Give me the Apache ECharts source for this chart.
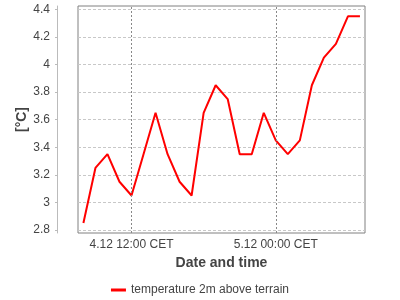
<!DOCTYPE html>
<html><head><meta charset="utf-8">
<script src="https://cdn.jsdelivr.net/npm/echarts@6/dist/echarts.min.js"></script>
<style>html,body{margin:0;padding:0;background:#fff}#c{width:400px;height:300px}</style>
</head><body><div id="c"></div>
<script>
// hourly data from 4.12 08:00 to 5.12 07:00 (x = hours since 4.12 00:00)
var startHour = 8;
var temps = [2.85, 3.25, 3.35, 3.15, 3.05, 3.35, 3.65, 3.35, 3.15, 3.05, 3.65, 3.85, 3.75, 3.35, 3.35, 3.65, 3.45, 3.35, 3.45, 3.85, 4.05, 4.15, 4.35, 4.35];
var seriesName = 'temperature 2m above terrain';
var yTicks = [2.8, 3, 3.2, 3.4, 3.6, 3.8, 4, 4.2, 4.4];
var xTickHours = [12, 24];
var xTickLabels = ['4.12 12:00 CET', '5.12 00:00 CET'];

var data = temps.map(function (v, i) { return [startHour + i, v]; });

var chart = echarts.init(document.getElementById('c'), null, {renderer: 'canvas'});
var font = 'Liberation Sans, Arial, sans-serif';
chart.setOption({
  animation: false,
  textStyle: {fontFamily: font},
  grid: {left: 78, right: 35, top: 6, bottom: 67, show: true, borderColor: '#808080', borderWidth: 1, containLabel: false},
  xAxis: {
    type: 'value',
    min: startHour - 0.45,
    max: startHour + temps.length - 1 + 0.42,
    name: 'Date and time', nameLocation: 'middle', nameGap: 22,
    nameTextStyle: {fontFamily: font, fontSize: 14, fontWeight: 'bold', color: '#444'},
    axisLine: {show: false},
    axisTick: {show: false, customValues: xTickHours},
    axisLabel: {color: '#444', fontSize: 12, fontFamily: font, margin: 6, customValues: xTickHours,
      formatter: function (v) { var k = xTickHours.indexOf(v); return k >= 0 ? xTickLabels[k] : ''; }},
    splitLine: {show: false}
  },
  yAxis: {
    type: 'value', min: 2.778, max: 4.425,
    offset: 21,
    name: '[°C]', nameLocation: 'middle', nameGap: 28, nameRotate: 90, nameMoveOverlap: false,
    nameTextStyle: {fontFamily: font, fontSize: 14, fontWeight: 'bold', color: '#444'},
    axisLine: {show: true, lineStyle: {color: '#bbb', width: 1}},
    axisTick: {show: true, length: 2, lineStyle: {color: '#bbb'}, customValues: yTicks},
    axisLabel: {color: '#444', fontSize: 12, fontFamily: font, margin: 7, customValues: yTicks},
    splitLine: {show: true, lineStyle: {color: '#c8c8c8', type: [3, 2], width: 1}}
  },
  legend: {
    bottom: -1, left: 'center', itemWidth: 15, itemHeight: 3, itemGap: 5,
    icon: 'rect',
    textStyle: {color: '#444', fontSize: 12, fontFamily: font},
    data: [{name: seriesName, itemStyle: {color: '#ff0000'}}]
  },
  series: [{
    name: seriesName, type: 'line', data: data, showSymbol: false, symbol: 'none',
    lineStyle: {color: '#ff0000', width: 2}, itemStyle: {color: '#ff0000'},
    markLine: {
      silent: true, symbol: 'none', label: {show: false}, animation: false,
      lineStyle: {color: '#888', type: [2, 2], width: 1},
      data: xTickHours.map(function (h) { return {xAxis: h}; })
    }
  }]
});
</script></body></html>
